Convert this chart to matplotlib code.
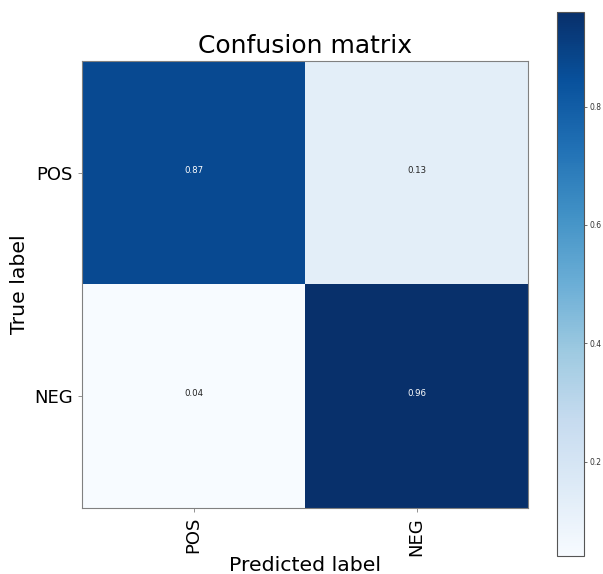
import numpy as np
import matplotlib.pyplot as plt

# Clases y matriz de confusión normalizada
classes = ['POS', 'NEG']
cm = np.array([[0.87, 0.13],
               [0.04, 0.96]])

fig = plt.figure(figsize=(6.03, 5.74), dpi=100)
ax = fig.add_axes([0.136, 0.115, 0.740, 0.779])
cax = fig.add_axes([0.924, 0.031, 0.0448, 0.948])

im = ax.imshow(cm, interpolation='nearest', cmap=plt.cm.Blues, aspect='auto')
ax.set_title('Confusion matrix', fontsize=18)

cb = fig.colorbar(im, cax=cax)
cb.set_ticks([0.2, 0.4, 0.6, 0.8])
cb.ax.tick_params(labelsize=5.5, colors='#333333', length=2, width=0.5, pad=2)
cb.outline.set_edgecolor('#555555')

ticks = np.arange(len(classes))
ax.set_xticks(ticks)
ax.set_xticklabels(classes, rotation=90, fontsize=13)
ax.set_yticks(ticks)
ax.set_yticklabels(classes, fontsize=13)
ax.tick_params(color='gray', length=3, width=0.6)
for s in ax.spines.values():
    s.set_edgecolor('gray')

# Valores en cada celda
thresh = cm.max() / 2.
for i in range(cm.shape[0]):
    for j in range(cm.shape[1]):
        ax.text(j, i, format(cm[i, j], '.2f'),
                ha='center', fontsize=6.2,
                color='white' if cm[i, j] > thresh else '#222222')

ax.set_ylabel('True label', fontsize=14.7)
ax.set_xlabel('Predicted label', fontsize=14.7, labelpad=0)

fig.savefig('out.png', dpi=100)
